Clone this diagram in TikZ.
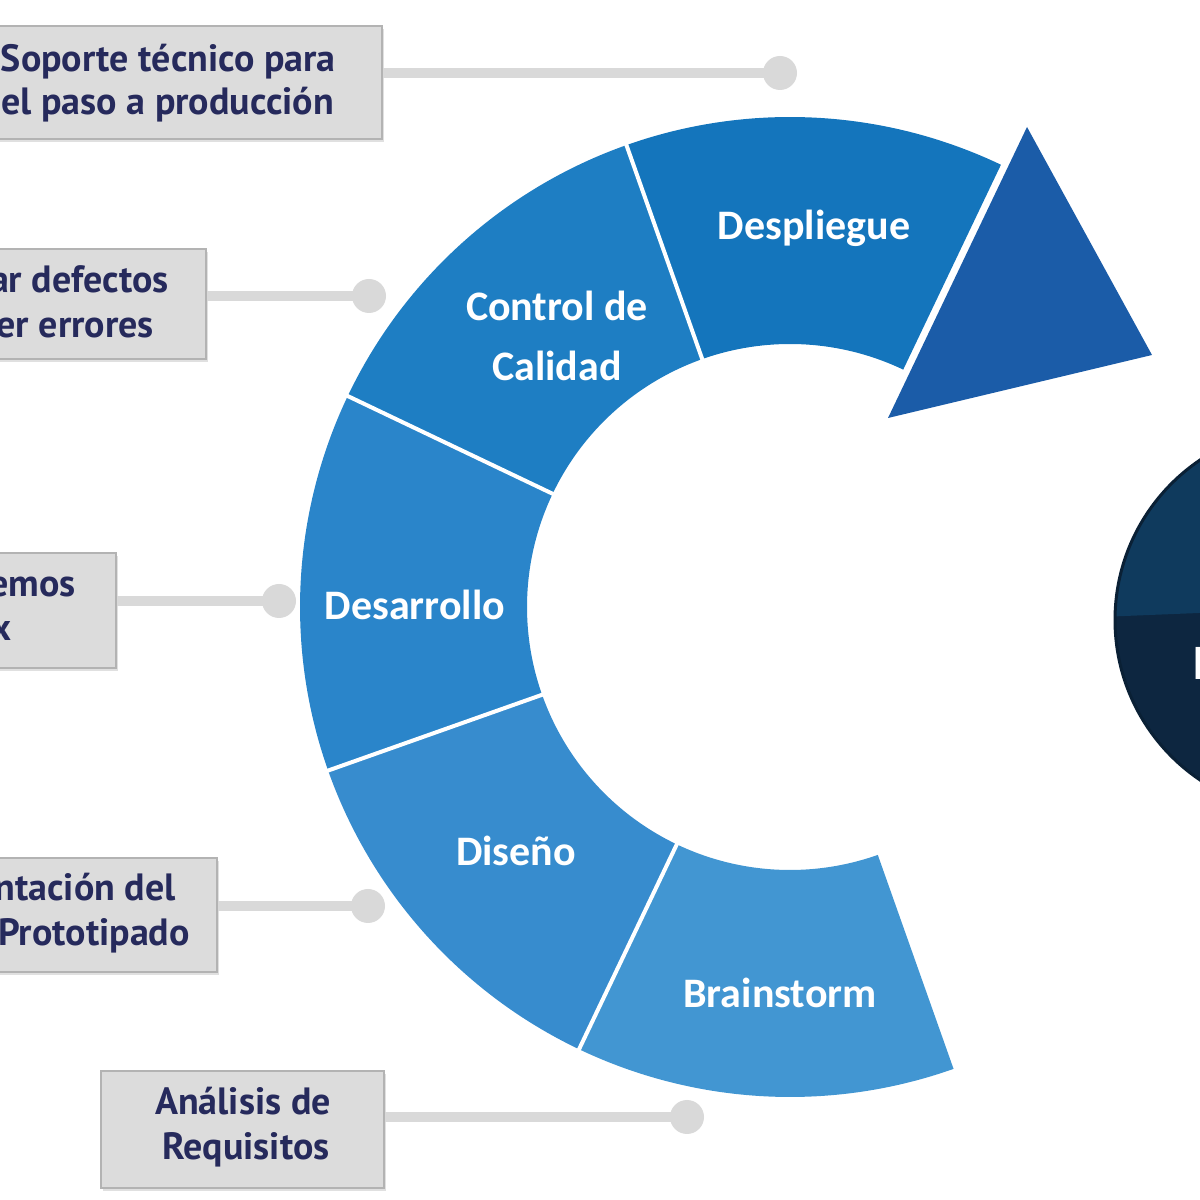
\documentclass[tikz,border=0pt]{standalone}
\usepackage{fontspec}
\setmainfont{PT Sans}
\newfontfamily\segfont{Carlito}
\usetikzlibrary{calc,shadows}

\definecolor{segA}{HTML}{4296D2}
\definecolor{segB}{HTML}{378CCE}
\definecolor{segC}{HTML}{2A85CA}
\definecolor{segD}{HTML}{1E7EC3}
\definecolor{segE}{HTML}{1475BC}
\definecolor{arrowhd}{HTML}{1B5CA8}
\definecolor{connline}{HTML}{D9D9D9}
\definecolor{boxfill}{HTML}{DCDCDC}
\definecolor{boxline}{HTML}{B3B3B3}
\definecolor{boxtext}{HTML}{262A5C}
\definecolor{discTop}{HTML}{0F3A5D}
\definecolor{discLow}{HTML}{0D2640}
\definecolor{discEdge}{HTML}{0A2035}

\tikzset{
  lbox/.style={draw=boxline, fill=boxfill, line width=2pt, inner sep=0pt,
    drop shadow={shadow xshift=2pt, shadow yshift=-3pt, fill=black!30, opacity=.4}},
  ltext/.style={text=boxtext, font=\bfseries\fontsize{38}{45}\selectfont, inner sep=0pt},
  stext/.style={text=white, font=\segfont\bfseries\fontsize{42}{60}\selectfont, align=center, inner sep=0pt},
  conn/.style={draw=connline, line width=10pt},
  knob/.style={circle, fill=connline, minimum size=34pt, inner sep=0pt},
}

\begin{document}
\begin{tikzpicture}[x=1pt,y=1pt]
  \useasboundingbox (0,0) rectangle (1200,1200);
  \clip (0,0) rectangle (1200,1200);
  \coordinate (C) at (790,593);
  \def\rout{490}\def\rin{263}
  % ring
  \foreach \col/\a [count=\i from 1] in {segA/-70.5,segB/-115.5,segC/-160.5,segD/-205.5,segE/-250.5} {
    \fill[\col] ($(C)+(\a:\rout)$) arc[start angle=\a, end angle=\a-45, radius=\rout pt]
      -- ($(C)+(\a-45:\rin)$) arc[start angle=\a-45, end angle=\a, radius=\rin pt] -- cycle;
  }
  \foreach \a in {-115.5,-160.5,-205.5,-250.5}
    \draw[white, line width=4pt] ($(C)+({\a}:{\rin-10})$) -- ($(C)+({\a}:{\rout+10})$);
  \fill[arrowhd] (888,782) -- (1027,1073) -- (1152,845) -- cycle;

  \node[stext] (desp) at (814,972) {Despliegue};
  \node[stext] (ctrl) at (557,864) {Control de\\Calidad};
  \node[stext] (desa) at (415,595) {Desarrollo};
  \node[stext] (dise) at (516,349) {Diseño};
  \node[stext] (brain) at (780,207) {Brainstorm};

  % disc on the right
  \node[circle, minimum size=386pt, inner sep=0pt] (disc) at (1308,580) {};
  \begin{scope}
    \clip (disc.center) circle[radius=193pt];
    \fill[discLow] (1100,380) rectangle (1520,790);
    \fill[discTop] (1100,583) -- (1520,600) -- (1520,790) -- (1100,790) -- cycle;
  \end{scope}
  \draw[discEdge, line width=3pt] (disc.center) circle[radius=193pt];
  \node[anchor=base west, text=white, font=\segfont\fontsize{50}{50}\selectfont, inner sep=0pt] (discP) at (1192,520) {P};

  % label boxes
  \node[lbox, minimum width=420pt, minimum height=113pt, anchor=north east] (b1) at (383,1175) {};
  \node[lbox, minimum width=240pt, minimum height=110pt, anchor=north east] (b2) at (207,952) {};
  \node[lbox, minimum width=150pt, minimum height=115pt, anchor=north east] (b3) at (117,648) {};
  \node[lbox, minimum width=250pt, minimum height=114pt, anchor=north east] (b4) at (218,343) {};
  \node[lbox, minimum width=283pt, minimum height=117pt, anchor=north west] (b5) at (100,130) {};

  \node[ltext, anchor=base east] (t1a) at (336,1128) {Soporte técnico para};
  \node[ltext, anchor=base east] (t1b) at (334,1085) {el paso a producción};
  \node[ltext, anchor=base east] (t2a) at (169,907) {ar defectos};
  \node[ltext, anchor=base east] (t2b) at (154,862) {er errores};
  \node[ltext, anchor=base east] (t3a) at (76,603) {emos};
  \node[ltext, anchor=base east] (t3b) at (12,559) {x};
  \node[ltext, anchor=base east] (t4a) at (176,299) {ntación del};
  \node[ltext, anchor=base east] (t4b) at (190,254) {Prototipado};
  \node[ltext, anchor=base] (t5a) at (243,85) {Análisis de};
  \node[ltext, anchor=base] (t5b) at (246,40) {Requisitos};

  % connectors
  \node[knob] (k1) at (780,1127) {};
  \node[knob] (k2) at (369,904) {};
  \node[knob] (k3) at (279,599) {};
  \node[knob] (k4) at (368,294) {};
  \node[knob] (k5) at (687,83) {};
  \foreach \i in {1,...,5}
    \draw[conn] (b\i.east |- k\i) -- (k\i.center);
\end{tikzpicture}
\end{document}
